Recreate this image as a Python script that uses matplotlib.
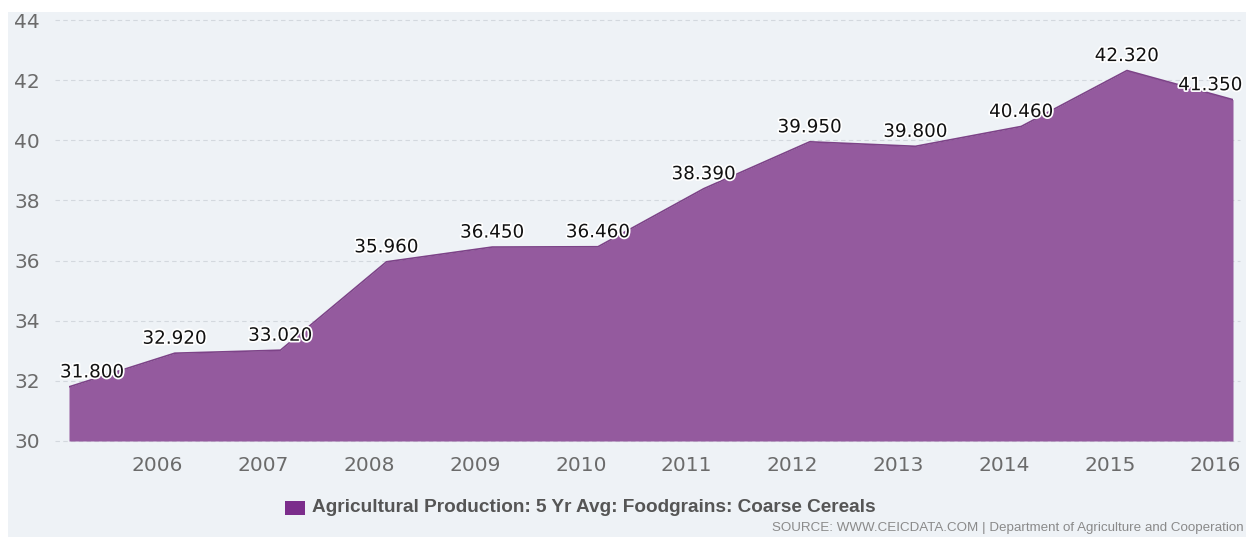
import matplotlib
matplotlib.use("Agg")
import matplotlib.pyplot as plt
import matplotlib.patheffects as pe
from matplotlib.patches import Rectangle
import pandas as pd

dates = ["2005-03-01", "2006-03-01", "2007-03-01", "2008-03-01", "2009-03-01",
         "2010-03-01", "2011-03-01", "2012-03-01", "2013-03-01", "2014-03-01",
         "2015-03-01", "2016-03-01"]
values = [31.80, 32.92, 33.02, 35.96, 36.45, 36.46, 38.39, 39.95, 39.80, 40.46, 42.32, 41.35]
tick_years = [2006, 2007, 2008, 2009, 2010, 2011, 2012, 2013, 2014, 2015, 2016]
y_ticks = [30, 32, 34, 36, 38, 40, 42, 44]
legend_label = "Agricultural Production: 5 Yr Avg: Foodgrains: Coarse Cereals"
source_text = "SOURCE: WWW.CEICDATA.COM | Department of Agriculture and Cooperation"

x = pd.to_datetime(dates)
W, H = 1254, 537
fig = plt.figure(figsize=(W / 100, H / 100), dpi=100, facecolor="white")
fig.patches.append(Rectangle((8 / W, 0), (1246 - 8) / W, (H - 12) / H,
                             transform=fig.transFigure, facecolor="#eef2f6",
                             edgecolor="none", zorder=-5))

ax = fig.add_axes([69 / W, 1 - 441 / H, (1233 - 69) / W, (441 - 20) / H])
ax.set_facecolor("none")
ax.fill_between(x, values, 30, color="#945a9e", linewidth=0, zorder=2)
ax.plot(x, values, color="#7d4388", linewidth=1.2, zorder=3)

ax.set_xlim(x[0], x[-1])
ax.set_ylim(30, 44)
ax.set_yticks(y_ticks)
ax.set_xticks(pd.to_datetime([f"{y}-01-01" for y in tick_years]))
ax.set_xticklabels([str(y) for y in tick_years])
for sp in ax.spines.values():
    sp.set_visible(False)
ax.tick_params(axis="both", length=0, labelsize=14.5, labelcolor="#6b6b6b")
ax.tick_params(axis="x", pad=11)
ax.tick_params(axis="y", pad=21)
for lab in ax.get_xticklabels() + ax.get_yticklabels():
    lab.set_family("DejaVu Sans")
for yt in y_ticks:
    ax.plot([-0.012, 1.006], [yt, yt], transform=ax.get_yaxis_transform(),
            color="#d3d8de", linestyle=(0, (4, 3)), linewidth=0.8, zorder=1, clip_on=False)

n = len(values)
for i, (xi, v) in enumerate(zip(x, values)):
    ha = "center"
    dx = 0
    if i == 0:
        ha = "left"; dx = -6.5
    elif i == n - 1:
        ha = "right"; dx = 7
    ax.annotate(f"{v:.3f}", (xi, v), xytext=(dx, 6.8), textcoords="offset points",
                ha=ha, va="baseline", fontsize=13.2, family="DejaVu Sans", color="#111111",
                path_effects=[pe.withStroke(linewidth=2.5, foreground="white")],
                zorder=5, annotation_clip=False)

fig.patches.append(Rectangle((285 / W, 1 - 515 / H), 20 / W, 14 / H,
                             transform=fig.transFigure, facecolor="#7b2d8b",
                             edgecolor="none", zorder=3))
fig.text(312 / W, 1 - 508 / H, legend_label, ha="left", va="center",
         fontsize=13.7, fontweight="bold", family="Liberation Sans", color="#555555")
fig.text(1244 / W, 1 - 528 / H, source_text, ha="right", va="center",
         fontsize=9.6, family="Liberation Sans", color="#8a8a8a")

fig.savefig("out.png", dpi=100, facecolor="white")
